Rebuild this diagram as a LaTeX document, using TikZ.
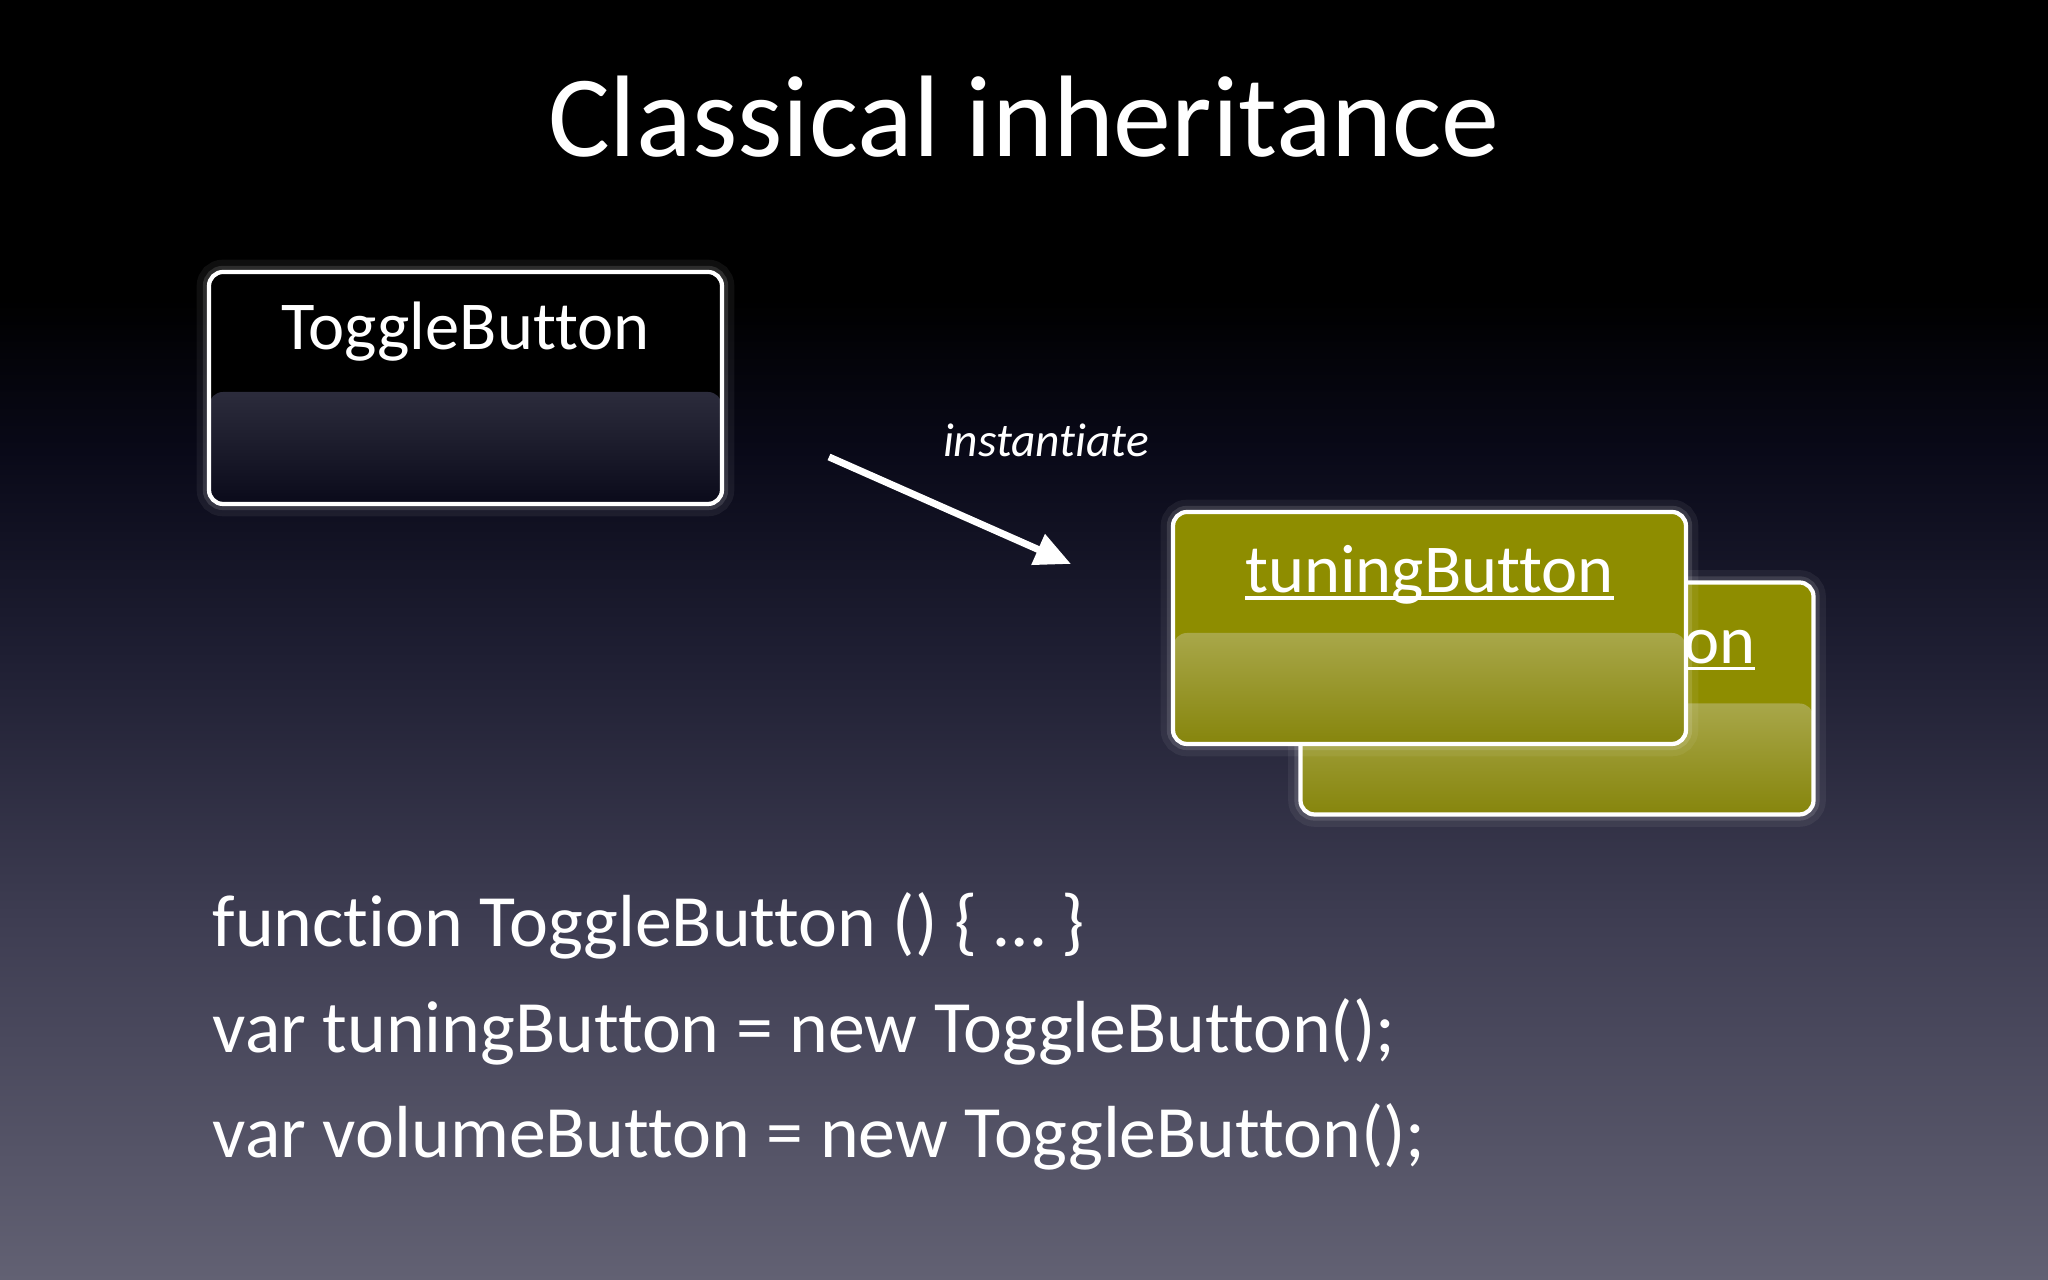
\documentclass[tikz,border=0pt]{standalone}
\usepackage{fontspec}
\setmainfont{Carlito}[Ligatures=NoCommon]
\usepackage{tikz}
\usetikzlibrary{arrows.meta,positioning,calc}
\usepackage{xcolor}

\definecolor{slidebot}{RGB}{98,97,115}
\definecolor{slidelow}{RGB}{62,61,82}
\definecolor{slidemid}{RGB}{30,30,50}
\definecolor{slidehigh}{RGB}{9,9,24}
\definecolor{olivetop}{RGB}{142,141,0}
\definecolor{olivelight}{RGB}{206,204,140}
\definecolor{olivemid}{RGB}{160,158,56}
\definecolor{olivebot}{RGB}{134,133,12}
\definecolor{darklight}{RGB}{80,80,96}
\definecolor{darkmid}{RGB}{32,32,48}
\definecolor{darkbot}{RGB}{10,10,26}

% path box is mapped to 25bp..75bp of the shading
\pgfdeclareverticalshading{slidebg}{100bp}{color(0bp)=(slidebot); color(25bp)=(slidebot); color(39bp)=(slidelow); color(49.6bp)=(slidemid); color(57.4bp)=(slidehigh); color(63.3bp)=(black); color(75bp)=(black); color(100bp)=(black)}

\newcommand\objname[1]{\leavevmode\setbox0\hbox{#1}\rlap{\rule[-0.07cm]{\wd0}{0.035cm}}\box0}

\begin{document}
\begin{tikzpicture}[
classbox/.style={rectangle,draw=white,line width=1.2pt,rounded corners=4pt,minimum width=5.13cm,inner xsep=0pt,inner ysep=0pt,text height=0.78cm,text depth=1.54cm,text=white,font=\fontsize{19.5}{22}\selectfont},
glow/.style={preaction={draw=white,opacity=0.06,line width=7pt},preaction={draw=white,opacity=0.12,line width=3.5pt}},
typebox/.style={classbox,glow,fill=black,path picture={\shade[top color=darklight,middle color=darkmid,bottom color=darkbot] (path picture bounding box.south west) rectangle ($(path picture bounding box.east)+(0,-0.04)$);}},
objbox/.style={classbox,glow,fill=olivetop,text height=0.81cm,text depth=1.51cm,path picture={\shade[top color=olivelight,middle color=olivemid,bottom color=olivebot] (path picture bounding box.south west) rectangle ($(path picture bounding box.east)+(0,-0.05)$);}},
txt/.style={text=white,inner sep=0pt},
codeline/.style={txt,anchor=base west,font=\fontsize{21}{25}\selectfont},
arr/.style={-{Triangle[length=0.36cm,width=0.32cm]},white,line width=2pt}
]
\shade[shading=slidebg] (0,0) rectangle (20.48,12.8);
\useasboundingbox (0,0) rectangle (20.48,12.8);

\node[txt,anchor=base,font=\fontsize{33}{38}\selectfont] (title) at (10.24,11.23) {Classical inheritance};

% class and its two instances
\node[typebox] (toggle) at (4.655,8.92) {ToggleButton};
\node[objbox] (volume) at (15.57,5.815) {\objname{volumeButton}};
\node[objbox] (tuning) at (14.295,6.52) {\objname{tuningButton}};

\coordinate (instfrom) at (8.29,8.23);
\coordinate (instto) at (10.71,7.16);
\draw[arr] (instfrom) -- (instto);
\node[txt,anchor=base,font=\itshape\fontsize{13.5}{16}\selectfont] (inst) at (10.46,8.23) {instantiate};

% code
\node[codeline] (fn) at (2.12,3.33) {function ToggleButton () \{ … \}};
\node[codeline] (tuningvar) at (2.12,2.27) {var tuningButton = new ToggleButton();};
\node[codeline] (volumevar) at (2.12,1.22) {var volumeButton = new ToggleButton();};
\end{tikzpicture}
\end{document}
